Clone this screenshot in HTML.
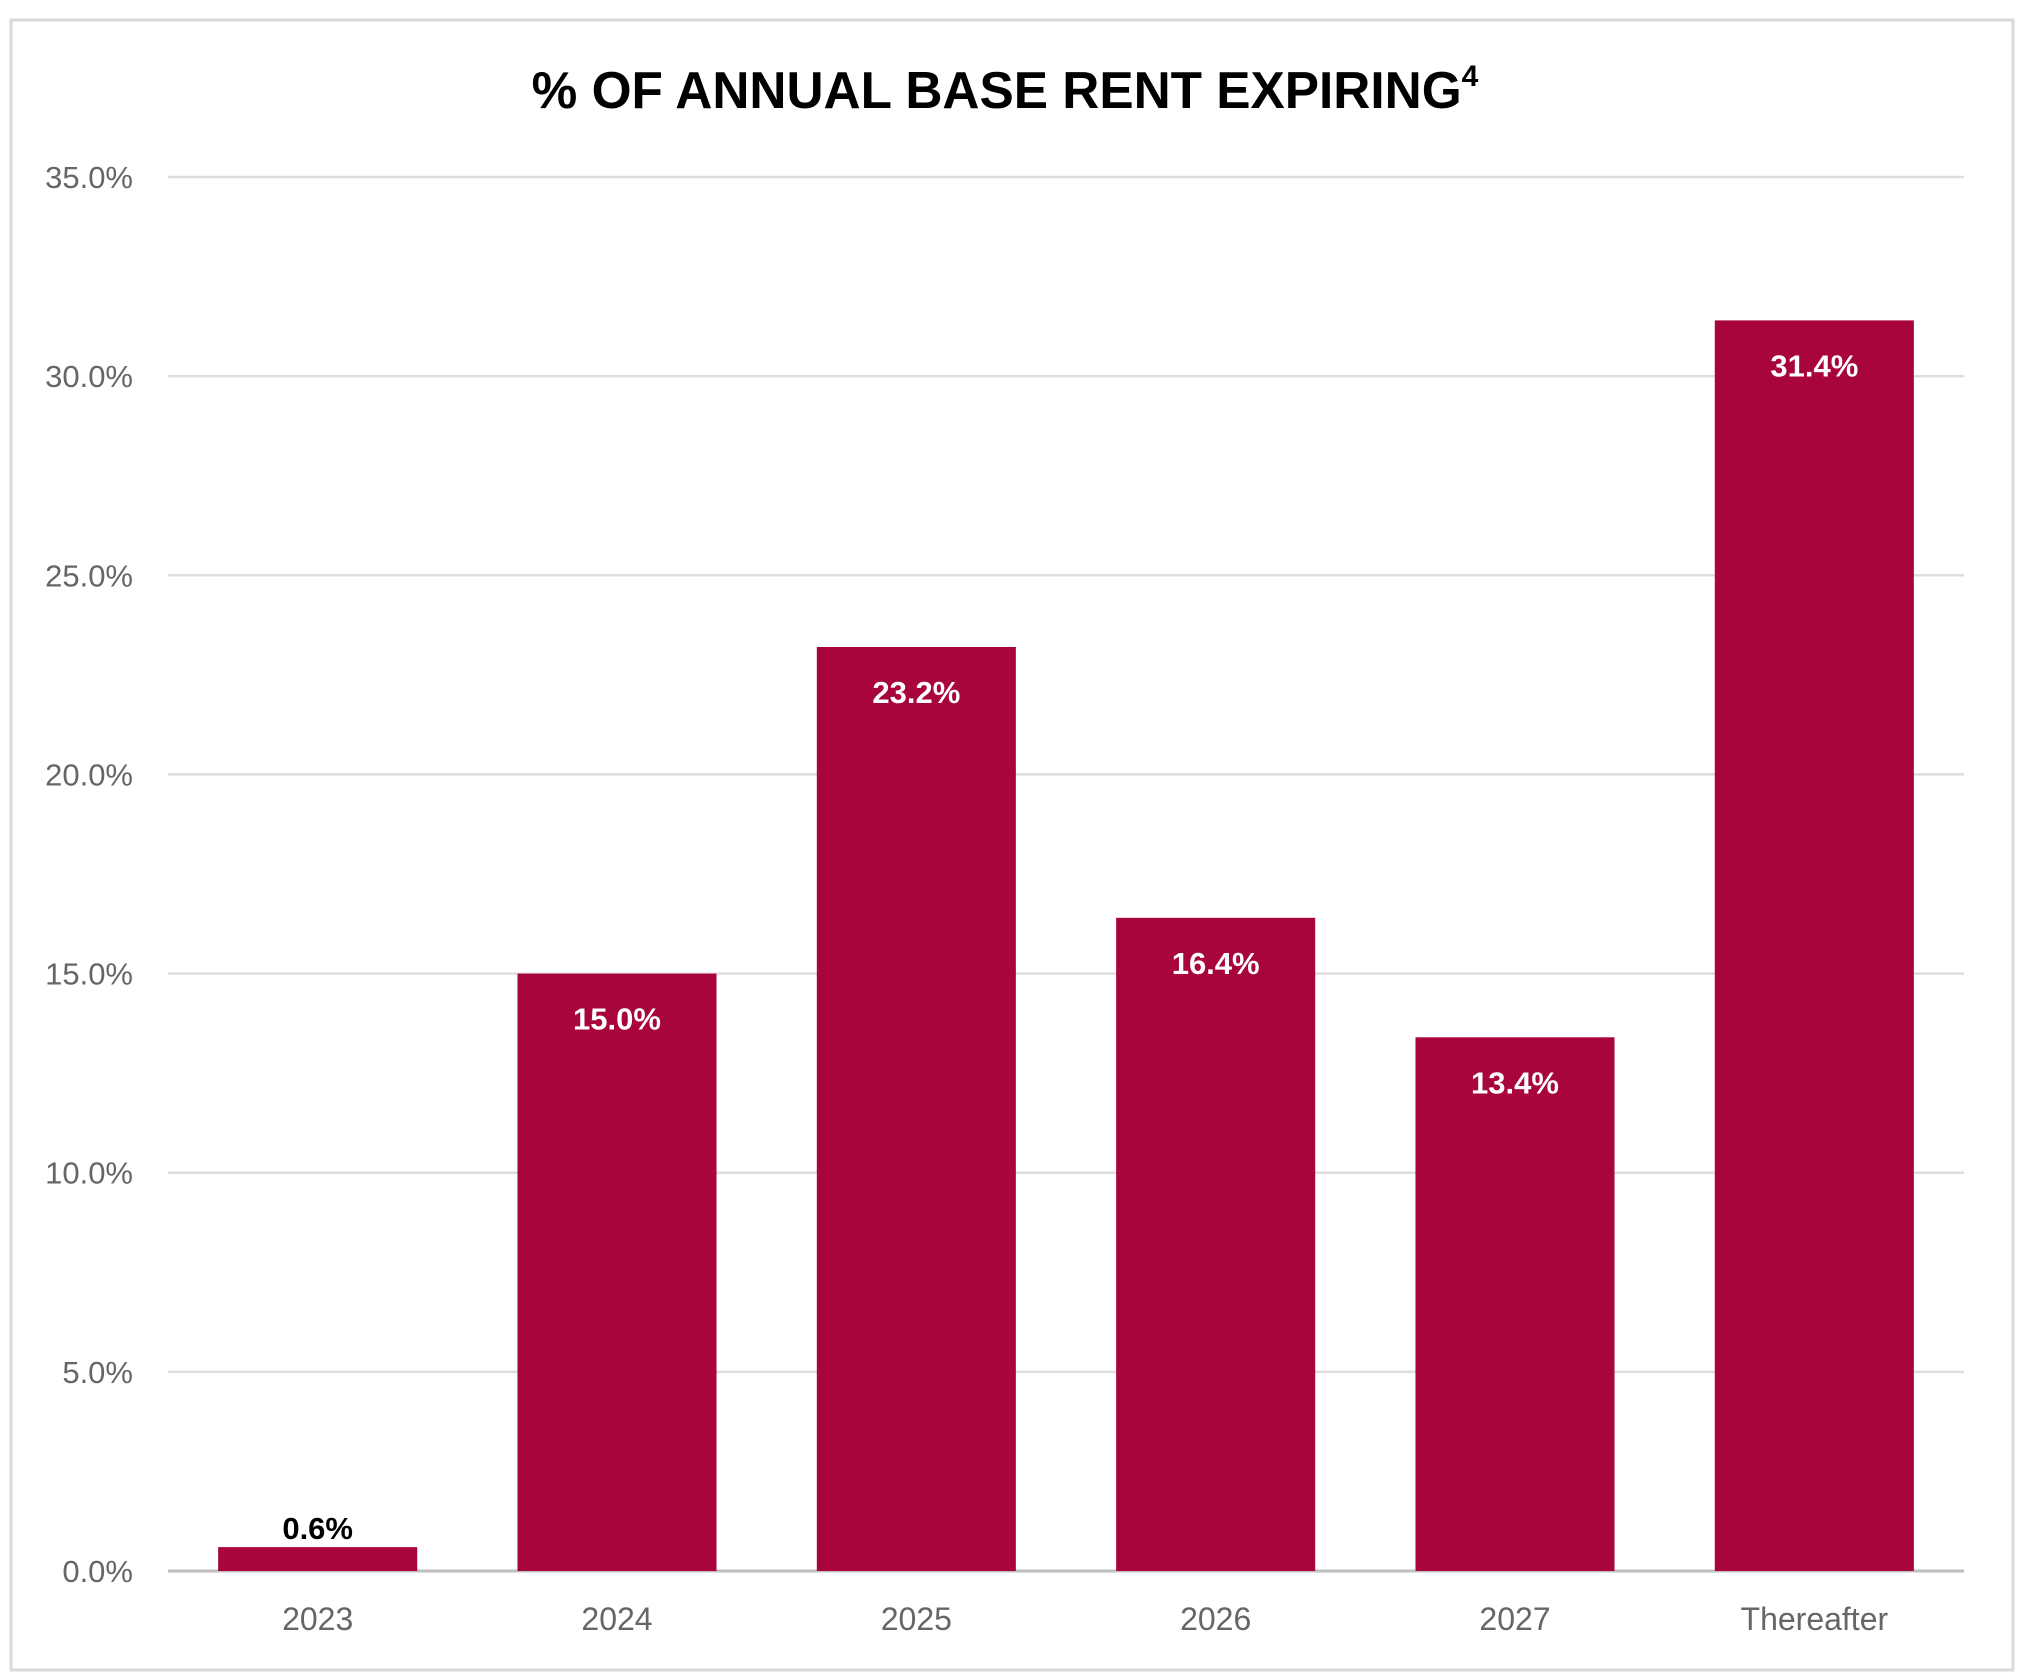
<!DOCTYPE html>
<html><head><meta charset="utf-8"><style>
html,body{margin:0;padding:0;background:#fff;}
svg{display:block;}
text{font-family:"Liberation Sans",sans-serif;}
</style></head><body>
<svg id="chart" width="2024" height="1673" viewBox="0 0 2024 1673">
<rect x="11" y="20" width="2002" height="1650" fill="#fff" stroke="#d9d9d9" stroke-width="3"/>
<text x="1005" y="108" text-anchor="middle" font-size="52" font-weight="bold" fill="#000"><tspan textLength="930" lengthAdjust="spacingAndGlyphs">% OF ANNUAL BASE RENT EXPIRING</tspan><tspan font-size="30" dy="-22">4</tspan></text>
<g id="grid"></g><g id="bars"></g><g id="labels"></g>
</svg>
<script>
const categories = ["2023","2024","2025","2026","2027","Thereafter"];
const values = [0.6,15.0,23.2,16.4,13.4,31.4];
const valueLabels = ["0.6%","15.0%","23.2%","16.4%","13.4%","31.4%"];
const ticks = [0,5,10,15,20,25,30,35];
const tickLabels = ["0.0%","5.0%","10.0%","15.0%","20.0%","25.0%","30.0%","35.0%"];

const NS="http://www.w3.org/2000/svg";
const x0=168,x1=1964,yBase=1571,yTop=177,vMax=35;
const y=v=>yBase-(v/vMax)*(yBase-yTop);
const band=(x1-x0)/categories.length;
const xc=i=>x0+band*(i+0.5);
const bw=band*0.665;
function mk(tag,attrs,parent){const e=document.createElementNS(NS,tag);for(const k in attrs)e.setAttribute(k,attrs[k]);parent.appendChild(e);return e;}
const grid=document.getElementById('grid'),bars=document.getElementById('bars'),labels=document.getElementById('labels');
ticks.forEach((t,i)=>{
  const l=mk('line',{x1:x0,x2:x1,y1:y(t),y2:y(t),stroke:t===0?'#bfbfbf':'#dedede','stroke-width':t===0?3:2.5},grid);
  
  
  const tx=mk('text',{x:133,y:y(t)+11,'text-anchor':'end','font-size':31,fill:'#666'},grid);
  tx.textContent=tickLabels[i];
  
  
});
categories.forEach((c,i)=>{
  const r=mk('rect',{x:xc(i)-bw/2,y:y(values[i]),width:bw,height:yBase-y(values[i]),fill:'#A8063A'},bars);
  
  
  const inside=values[i]>3;
  const vl=mk('text',{x:xc(i),y:inside?y(values[i])+56:y(values[i])-8,'text-anchor':'middle','font-size':31,'font-weight':'bold',fill:inside?'#fff':'#000'},labels);
  vl.textContent=valueLabels[i];
  
  
  const xl=mk('text',{x:xc(i),y:1630,'text-anchor':'middle','font-size':32,fill:'#666'},labels);
  xl.textContent=c;
  
  
});
</script>
</body></html>
